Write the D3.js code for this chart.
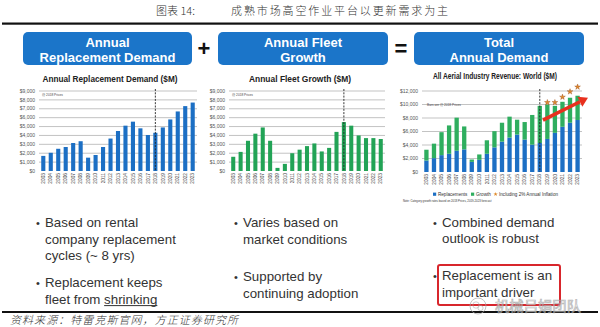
<!DOCTYPE html>
<html>
<head>
<meta charset="utf-8">
<script src="https://cdn.jsdelivr.net/npm/d3@7"></script>
<style>
  html, body { margin: 0; padding: 0; background: #fff; }
  svg { display: block; }
</style>
</head>
<body>
<svg id="chart" width="600" height="327"></svg>
<script>
// Aerial work platform demand, 2003-2023 ($M, 2018 prices)
const years = ["2003","2004","2005","2006","2007","2008","2009","2010","2011","2012","2013",
               "2014","2015","2016","2017","2018","2019","2020","2021","2022","2023"];
const replacement = [1700, 2050, 2500, 2700, 3150, 3350, 1500, 1800, 2700, 3650, 4500,
                     5100, 5550, 4800, 4050, 4300, 4900, 5800, 6700, 7300, 7700];
const growth = [1600, 2150, 3400, 4200, 4900, 3400, 350, 800, 2000, 2400, 2800,
                3100, 2200, 2600, 4400, 5500, 5100, 4000, 3700, 3700, 3600];
// Totals including 2% annual inflation (forecast years)
const inflationYears = ["2019","2020","2021","2022","2023"];
const inflationTotals = [10300, 10300, 11100, 11900, 12600];
const ticks9 = [0, 1000, 2000, 3000, 4000, 5000, 6000, 7000, 8000, 9000];
const ticks12 = [0, 2000, 4000, 6000, 8000, 10000, 12000];
const splitYear = "2018";

const BLUE = "#1c6fc4", GREEN = "#22a356", GREEN3 = "#2fae5f";
const SANS = "'Liberation Sans', Arial, sans-serif";
const CJK = "'Noto Sans CJK SC', sans-serif";

const svg = d3.select("#chart");

// ---- page header ----
svg.append("text").attr("x", 156).attr("y", 15)
  .attr("font-family", CJK).attr("font-size", 11).attr("font-weight", 300).attr("fill", "#333")
  .text("图表 14:");
svg.append("text").attr("x", 231).attr("y", 15)
  .attr("font-family", CJK).attr("font-size", 11).attr("font-weight", 300).attr("fill", "#333")
  .attr("textLength", 217).attr("lengthAdjust", "spacing")
  .text("成熟市场高空作业平台以更新需求为主");
svg.append("rect").attr("x", 2).attr("y", 22.5).attr("width", 596).attr("height", 2.2).attr("fill", "#111");

// ---- blue heading boxes ----
const boxes = [
  { x: 23, w: 169, lines: ["Annual", "Replacement Demand"] },
  { x: 218, w: 170, lines: ["Annual Fleet", "Growth"] },
  { x: 414, w: 170, lines: ["Total", "Annual Demand"] }
];
boxes.forEach(b => {
  svg.append("rect").attr("x", b.x).attr("y", 32).attr("width", b.w).attr("height", 33)
    .attr("rx", 5).attr("fill", "#1b75c9");
  b.lines.forEach((t, i) => {
    svg.append("text").attr("x", b.x + b.w / 2).attr("y", 47 + i * 14.5)
      .attr("text-anchor", "middle").attr("font-family", SANS).attr("font-weight", "bold")
      .attr("font-size", 13).attr("fill", "#fff").text(t);
  });
});
[["+", 204], ["=", 401]].forEach(([s, x]) => {
  svg.append("text").attr("x", x).attr("y", 56).attr("text-anchor", "middle")
    .attr("font-family", SANS).attr("font-weight", "bold").attr("font-size", 22)
    .attr("fill", "#111").text(s);
});

// ---- bar charts ----
function drawAxes(g, cfg, x, y) {
  g.append("g").selectAll("line").data(cfg.ticks.slice(1)).join("line")
    .attr("x1", cfg.x0).attr("x2", cfg.x1)
    .attr("y1", d => y(d)).attr("y2", d => y(d))
    .attr("stroke", "#9a9a9a").attr("stroke-width", 0.6);
  g.append("g").selectAll("text").data(cfg.ticks).join("text")
    .attr("x", cfg.x0 - 4).attr("y", d => y(d) + 1.7)
    .attr("text-anchor", "end").attr("font-family", SANS).attr("font-size", 5)
    .attr("fill", "#555").text(d => d3.format("$,")(d));
  g.append("g").selectAll("text").data(years).join("text")
    .attr("transform", d => `translate(${x(d) + x.bandwidth() / 2 + 1.7},${cfg.y0 + 2}) rotate(-90)`)
    .attr("text-anchor", "end").attr("font-family", SANS).attr("font-size", 4.8)
    .attr("fill", "#444").text(d => d);
  g.append("text").attr("x", cfg.titleX).attr("y", cfg.titleY).attr("text-anchor", "middle")
    .attr("font-family", SANS).attr("font-weight", "bold").attr("font-size", 8.5)
    .attr("fill", "#222").attr("textLength", cfg.titleW).attr("lengthAdjust", "spacingAndGlyphs")
    .text(cfg.title);
  g.append("text").attr("x", cfg.noteX).attr("y", cfg.noteY)
    .attr("font-family", SANS).attr("font-size", 3.2).attr("fill", "#444").text(cfg.note);
}
function drawSplit(g, cfg, x) {
  const sx = x(splitYear) + x.bandwidth() / 2;
  g.append("line").attr("x1", sx).attr("x2", sx).attr("y1", cfg.y1 - 2).attr("y2", cfg.y0)
    .attr("stroke", "#222").attr("stroke-width", 0.9).attr("stroke-dasharray", "2,1.3");
}

function simpleChart(cfg, values, color) {
  const g = svg.append("g");
  const x = d3.scaleBand().domain(years).range([cfg.x0, cfg.x1]).paddingInner(0.45).paddingOuter(0.3);
  const y = d3.scaleLinear().domain([0, cfg.max]).range([cfg.y0, cfg.y1]);
  drawAxes(g, cfg, x, y);
  g.append("g").selectAll("rect").data(values).join("rect")
    .attr("x", (d, i) => x(years[i])).attr("width", x.bandwidth())
    .attr("y", d => y(d)).attr("height", d => y(0) - y(d)).attr("fill", color);
  drawSplit(g, cfg, x);
}

simpleChart({ x0: 39, x1: 197, y0: 171, y1: 91, max: 9000, ticks: ticks9,
  title: "Annual Replacement Demand ($M)", titleX: 110, titleY: 82, titleW: 135,
  note: "@ 2018 Prices", noteX: 42, noteY: 96 }, replacement, BLUE);

simpleChart({ x0: 229, x1: 385, y0: 171, y1: 91, max: 9000, ticks: ticks9,
  title: "Annual Fleet Growth ($M)", titleX: 300, titleY: 82, titleW: 102,
  note: "@ 2018 Prices", noteX: 232, noteY: 96 }, growth, GREEN);

// stacked total chart
(function () {
  const cfg = { x0: 422, x1: 582, y0: 172, y1: 91, max: 12000, ticks: ticks12,
    title: "All Aerial Industry Revenue: World ($M)", titleX: 495, titleY: 79, titleW: 124,
    note: "Bars are @ 2018 Prices", noteX: 427, noteY: 106 };
  const g = svg.append("g");
  const x = d3.scaleBand().domain(years).range([cfg.x0, cfg.x1]).paddingInner(0.43).paddingOuter(0.3);
  const y = d3.scaleLinear().domain([0, cfg.max]).range([cfg.y0, cfg.y1]);
  drawAxes(g, cfg, x, y);
  const rows = years.map((yr, i) => ({ year: yr, Replacements: replacement[i], Growth: growth[i] }));
  const stack = d3.stack().keys(["Replacements", "Growth"])(rows);
  const colors = { Replacements: BLUE, Growth: GREEN3 };
  g.append("g").selectAll("g").data(stack).join("g").attr("fill", s => colors[s.key])
    .selectAll("rect").data(s => s).join("rect")
    .attr("x", d => x(d.data.year)).attr("width", x.bandwidth())
    .attr("y", d => y(d[1])).attr("height", d => y(d[0]) - y(d[1]));
  drawSplit(g, cfg, x);

  const star = d3.symbol().type(d3.symbolStar).size(10);
  g.append("g").selectAll("path").data(inflationTotals).join("path")
    .attr("d", star)
    .attr("transform", (d, i) => `translate(${x(inflationYears[i]) + x.bandwidth() / 2},${y(d)})`)
    .attr("fill", "#e08a2c").attr("stroke", "#9a4d1a").attr("stroke-width", 0.4);

  // upward trend arrow
  const ax0 = x(splitYear) + x.bandwidth() + 1, ay0 = y(7700);
  const ax1 = cfg.x1 + 6, ay1 = y(11000);
  const ang = Math.atan2(ay1 - ay0, ax1 - ax0);
  const hl = 9, hw = 5.5;
  const bx = ax1 - hl * Math.cos(ang), by = ay1 - hl * Math.sin(ang);
  const px = -Math.sin(ang), py = Math.cos(ang);
  g.append("line").attr("x1", ax0).attr("y1", ay0).attr("x2", bx).attr("y2", by)
    .attr("stroke", "#e8301e").attr("stroke-width", 3.6);
  g.append("path")
    .attr("d", `M${ax1},${ay1}L${bx + px * hw},${by + py * hw}L${bx - px * hw},${by - py * hw}Z`)
    .attr("fill", "#e8301e");

  // legend
  const lg = g.append("g").attr("font-family", SANS).attr("font-size", 4.6).attr("fill", "#333");
  const items = [
    { x: 433, label: "Replacements", kind: "sq", c: BLUE },
    { x: 471, label: "Growth", kind: "sq", c: GREEN3 },
    { x: 494, label: "Including 2% Annual Inflation", kind: "star", c: "#e08a2c" }
  ];
  items.forEach(it => {
    if (it.kind === "sq") {
      lg.append("rect").attr("x", it.x).attr("y", 192.6).attr("width", 3.2).attr("height", 3.2).attr("fill", it.c);
    } else {
      lg.append("path").attr("d", d3.symbol().type(d3.symbolStar).size(6))
        .attr("transform", `translate(${it.x + 1.6},194.2)`).attr("fill", it.c);
    }
    lg.append("text").attr("x", it.x + 5).attr("y", 195.8).text(it.label);
  });
  g.append("text").attr("x", 403).attr("y", 201.5).attr("font-family", SANS)
    .attr("font-size", 2.8).attr("fill", "#333")
    .text("Note: Category growth rates based on 2018 Prices, 2019-2023 forecast");
})();

// ---- bullet points ----
const LH = 16.6;
const bullets = [
  { bx: 36, tx: 45, items: [
      { y: 227, lines: ["Based on rental", "company replacement", "cycles (~ 8 yrs)"] },
      { y: 287, lines: ["Replacement keeps", "fleet from shrinking"] } ] },
  { bx: 234, tx: 243, items: [
      { y: 227, lines: ["Varies based on", "market conditions"] },
      { y: 281, lines: ["Supported by", "continuing adoption"] } ] },
  { bx: 433, tx: 442, items: [
      { y: 226.5, lines: ["Combined demand", "outlook is robust"] },
      { y: 280, lines: ["Replacement is an", "important driver"] } ] }
];
bullets.forEach(col => {
  col.items.forEach(it => {
    svg.append("text").attr("x", col.bx).attr("y", it.y).attr("font-family", SANS)
      .attr("font-size", 11).attr("fill", "#333").text("•");
    it.lines.forEach((t, i) => {
      svg.append("text").attr("x", col.tx).attr("y", it.y + i * LH).attr("font-family", SANS)
        .attr("font-size", 13.3).attr("fill", "#333").text(t);
    });
  });
});
// underline under "shrinking"
(function () {
  const probe = svg.append("text").attr("font-family", SANS).attr("font-size", 13.3).text("fleet from shrinking");
  const wAll = probe.node().getComputedTextLength();
  probe.text("shrinking");
  const w1 = probe.node().getComputedTextLength();
  probe.remove();
  svg.append("line").attr("x1", 45 + wAll - w1).attr("x2", 45 + wAll)
    .attr("y1", 287 + LH + 2).attr("y2", 287 + LH + 2)
    .attr("stroke", "#333").attr("stroke-width", 1);
})();
// highlight box
svg.append("rect").attr("x", 438).attr("y", 265).attr("width", 122).attr("height", 40)
  .attr("rx", 2).attr("fill", "none").attr("stroke", "#d8262c").attr("stroke-width", 2);

// ---- footer ----
svg.append("rect").attr("x", 2).attr("y", 311).attr("width", 596).attr("height", 2).attr("fill", "#111");
svg.append("text").attr("x", 10).attr("y", 324).attr("font-family", CJK).attr("font-size", 11)
  .attr("font-weight", 300).attr("font-style", "italic").attr("fill", "#333")
  .attr("textLength", 228).attr("lengthAdjust", "spacing")
  .text("资料来源：特雷克斯官网，方正证券研究所");

// channel mark
const wm = svg.append("g").attr("opacity", 0.7);
wm.append("circle").attr("cx", 478).attr("cy", 306).attr("r", 8)
  .attr("fill", "none").attr("stroke", "#aaa").attr("stroke-width", 1);
wm.append("circle").attr("cx", 476).attr("cy", 305).attr("r", 3.2)
  .attr("fill", "none").attr("stroke", "#aaa").attr("stroke-width", 0.8);
wm.append("circle").attr("cx", 480.5).attr("cy", 308).attr("r", 2.6)
  .attr("fill", "none").attr("stroke", "#aaa").attr("stroke-width", 0.8);
wm.append("text").attr("x", 495).attr("y", 311).attr("font-family", CJK).attr("font-size", 14)
  .attr("fill", "#fff").attr("stroke", "#999").attr("stroke-width", 0.7)
  .attr("textLength", 86).attr("lengthAdjust", "spacingAndGlyphs").text("机械吕娟团队");
</script>
</body>
</html>
